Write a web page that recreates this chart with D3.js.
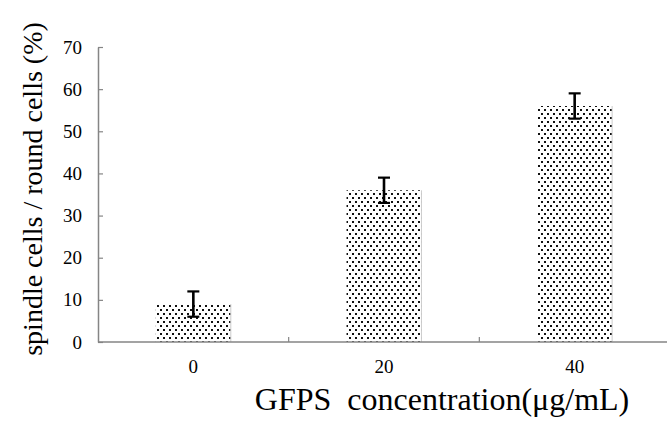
<!DOCTYPE html>
<html>
<head>
<meta charset="utf-8">
<script src="https://cdn.jsdelivr.net/npm/d3@7"></script>
<style>
  body { margin: 0; background: #fff; }
  svg { display: block; }
</style>
</head>
<body>
<div id="chart"></div>
<script>
const categories = ["0", "20", "40"];
const values = [9, 36, 56];
const errors = [3, 3, 3];
const yTicks = [0, 10, 20, 30, 40, 50, 60, 70];

const width = 667, height = 422;
const margin = { top: 47, left: 98 };
const serif = "'Liberation Serif', 'Times New Roman', serif";
const axisColor = "#858585";

const svg = d3.select("#chart").append("svg")
    .attr("width", width)
    .attr("height", height);

// dotted fill like the original
const pat = svg.append("defs").append("pattern")
    .attr("id", "dots")
    .attr("patternUnits", "userSpaceOnUse")
    .attr("width", 6)
    .attr("height", 8);
pat.append("rect").attr("width", 6).attr("height", 8).attr("fill", "#fff");
pat.append("rect").attr("x", 1).attr("y", 1).attr("width", 2).attr("height", 2).attr("fill", "#111");
pat.append("rect").attr("x", 4).attr("y", 5).attr("width", 2).attr("height", 2).attr("fill", "#111");

const x = d3.scaleBand()
    .domain(categories)
    .range([margin.left, 670])
    .paddingInner(0.607)
    .paddingOuter(0.3035);

const y = d3.scaleLinear()
    .domain([0, 70])
    .range([342, margin.top]);

// bars
svg.selectAll(".bar")
    .data(values)
    .enter()
    .append("rect")
    .attr("class", "bar")
    .attr("x", (d, i) => x(categories[i]))
    .attr("y", d => y(d))
    .attr("width", x.bandwidth())
    .attr("height", d => y(0) - y(d))
    .attr("fill", "url(#dots)");

svg.selectAll(".bar-edge")
    .data(values)
    .enter()
    .append("line")
    .attr("x1", (d, i) => x(categories[i]) + x.bandwidth())
    .attr("x2", (d, i) => x(categories[i]) + x.bandwidth())
    .attr("y1", d => y(d))
    .attr("y2", y(0))
    .attr("stroke", "#ccc")
    .attr("stroke-width", 1);

// error bars
const err = svg.selectAll(".err")
    .data(values)
    .enter()
    .append("g")
    .attr("transform", (d, i) => `translate(${x(categories[i]) + x.bandwidth() / 2},0)`);
err.append("line")
    .attr("y1", (d, i) => y(d + errors[i]))
    .attr("y2", (d, i) => y(d - errors[i]))
    .attr("stroke", "#000")
    .attr("stroke-width", 2.6);
err.selectAll(".cap")
    .data((d, i) => [y(d + errors[i]), y(d - errors[i])])
    .enter()
    .append("line")
    .attr("x1", -6).attr("x2", 6)
    .attr("y1", d => d)
    .attr("y2", d => d)
    .attr("stroke", "#000")
    .attr("stroke-width", 2.2);

// y axis, ticks pointing into the plot
const yAxis = svg.append("g")
    .attr("transform", `translate(${margin.left},0)`)
    .call(d3.axisLeft(y).tickValues(yTicks).tickSize(-5).tickSizeOuter(0).tickPadding(16));
yAxis.select(".domain").attr("stroke", axisColor).attr("stroke-width", 1.5);
yAxis.selectAll(".tick line").attr("stroke", axisColor).attr("stroke-width", 1.2);
yAxis.selectAll("text")
    .attr("font-family", serif)
    .attr("font-size", 19)
    .attr("fill", "#000");

// x axis: line to the right edge, inner ticks between categories
svg.append("line")
    .attr("x1", margin.left).attr("x2", width)
    .attr("y1", y(0)).attr("y2", y(0))
    .attr("stroke", axisColor).attr("stroke-width", 1.5);

const step = x.step();
svg.selectAll(".xsep")
    .data(categories.slice(1))
    .enter()
    .append("line")
    .attr("x1", d => x(d) - x.paddingInner() * step / 2)
    .attr("x2", d => x(d) - x.paddingInner() * step / 2)
    .attr("y1", y(0))
    .attr("y2", y(0) - 5)
    .attr("stroke", axisColor)
    .attr("stroke-width", 1.2);

svg.selectAll(".xlab")
    .data(categories)
    .enter()
    .append("text")
    .attr("x", d => x(d) + x.bandwidth() / 2)
    .attr("y", 373)
    .attr("text-anchor", "middle")
    .attr("font-family", serif)
    .attr("font-size", 19)
    .text(d => d);

// axis titles
svg.append("text")
    .attr("x", 442)
    .attr("y", 410)
    .attr("text-anchor", "middle")
    .attr("font-family", serif)
    .attr("font-size", 32)
    .attr("xml:space", "preserve")
    .style("white-space", "pre")
    .text("GFPS  concentration(μg/mL)");

svg.append("text")
    .attr("transform", "translate(42,189) rotate(-90)")
    .attr("text-anchor", "middle")
    .attr("font-family", serif)
    .attr("font-size", 28)
    .text("spindle cells / round cells (%)");
</script>
</body>
</html>
